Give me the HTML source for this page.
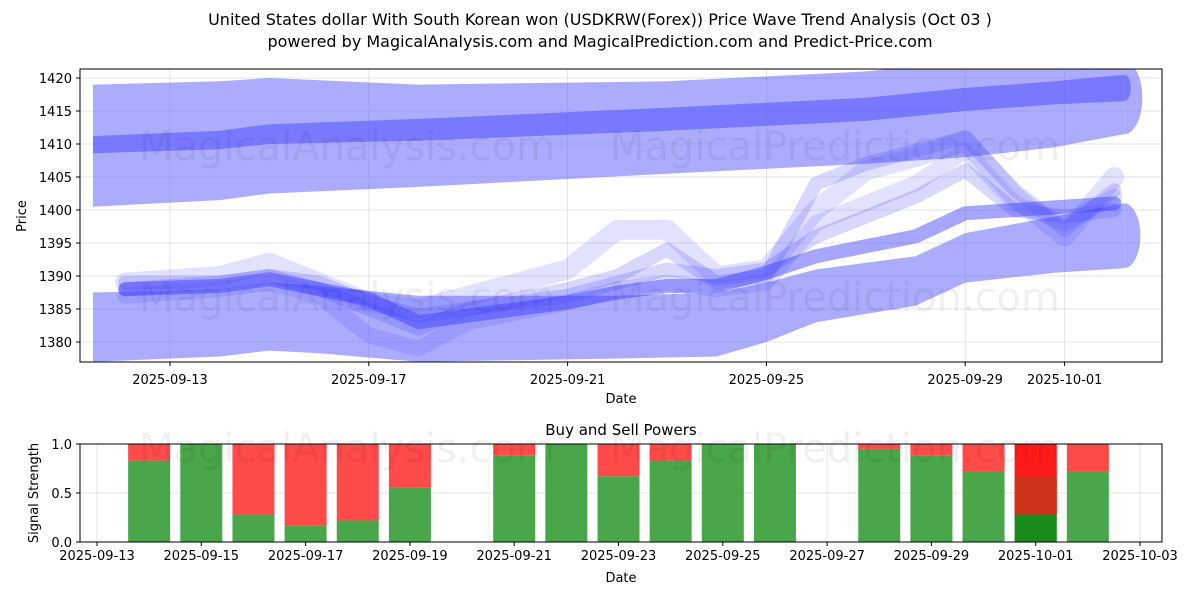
<!DOCTYPE html>
<html><head><meta charset="utf-8"><style>
body{margin:0;background:#fff;font-family:"Liberation Sans","DejaVu Sans",sans-serif;}
svg text{font-family:"DejaVu Sans","Liberation Sans",sans-serif;}
</style></head><body>
<svg id="c" width="1200" height="600" xmlns="http://www.w3.org/2000/svg">
<rect width="1200" height="600" fill="#fff"/>
<text x="600" y="25" font-size="16" text-anchor="middle">United States dollar With South Korean won (USDKRW(Forex)) Price Wave Trend Analysis (Oct 03 )</text>
<text x="600" y="47" font-size="16" text-anchor="middle">powered by MagicalAnalysis.com and MagicalPrediction.com and Predict-Price.com</text>
<g id="main"></g>
<g id="sub"></g>
</svg>
<script>
// ---- main chart data (days since 2025-09-13) ----
const bandDays = [-1.55, 1, 2, 5, 10, 14, 16, 17.8, 19.2];
const upperTop = [1419, 1419.5, 1420, 1419, 1419.5, 1421, 1422.5, 1423, 1422.5];
const upperBot = [1400.5, 1401.5, 1402.5, 1403.5, 1405.5, 1407, 1408, 1409.5, 1411.5];
const midTop = [1411.2, 1412, 1413, 1413.8, 1415.5, 1417, 1418.5, 1419.5, 1420.5];
const midBot = [1408.6, 1409.2, 1410, 1410.5, 1412, 1413.5, 1415, 1416, 1416.5];
const lowDays = [-1.55, 1, 2, 3, 5, 9, 11, 12, 13, 15, 16, 17.8, 19.2];
const lowTop = [1387.5, 1388, 1389, 1388.5, 1387, 1387, 1387.5, 1389, 1391, 1393, 1396.5, 1399, 1401];
const lowBot = [1377, 1377.8, 1378.7, 1378.3, 1377, 1377.5, 1377.8, 1380, 1383, 1385.5, 1389, 1390.5, 1391.2];
const waveDays = [-0.9, 1, 2, 3, 4, 5, 6, 8, 9, 10, 11, 12, 13, 14, 15, 16, 17, 18, 19];
const waveA = [1388, 1388.5, 1389.5, 1388, 1386.5, 1383, 1384, 1386, 1387.5, 1388.5, 1388.5, 1390.5, 1393, 1394.5, 1396, 1399.5, 1400, 1400.5, 1401];
const waveB = [1389, 1390, 1392, 1389, 1386, 1385, 1387, 1391, 1397, 1397, 1390, 1391, 1400, 1406, 1408, 1410.5, 1402, 1396, 1405];
const waveC = [1388, 1389, 1390, 1388, 1385, 1382, 1385, 1388, 1390, 1394, 1389, 1390, 1404, 1407, 1409, 1411, 1403, 1397, 1403];
const waveD = [1387, 1388, 1389, 1387, 1381, 1379, 1383, 1386, 1388, 1389, 1388, 1389, 1398, 1401, 1404, 1409, 1401, 1398, 1402];
const waveE = [1389, 1389, 1390, 1389, 1386, 1384, 1385, 1387, 1389, 1391, 1390, 1391, 1396, 1399, 1402, 1406, 1400, 1399, 1400];
const yTicks = [1380, 1385, 1390, 1395, 1400, 1405, 1410, 1415, 1420];
const xTickDays = [0, 4, 8, 12, 16, 18];
const xTickLabels = ["2025-09-13", "2025-09-17", "2025-09-21", "2025-09-25", "2025-09-29", "2025-10-01"];
// ---- sub chart data (days since 2025-09-13) ----
const barDays = [1, 2, 3, 4, 5, 6, 8, 9, 10, 11, 12, 13, 15, 16, 17, 18, 19];
const buyVals = [0.83, 1.0, 0.28, 0.17, 0.22, 0.56, 0.88, 1.0, 0.67, 0.83, 1.0, 1.0, 0.95, 0.88, 0.72, 0.28, 0.72];
const subXDays = [0, 2, 4, 6, 8, 10, 12, 14, 16, 18, 20];
const subXLabels = ["2025-09-13", "2025-09-15", "2025-09-17", "2025-09-19", "2025-09-21", "2025-09-23", "2025-09-25", "2025-09-27", "2025-09-29", "2025-10-01", "2025-10-03"];
const subYTicks = [0, 0.5, 1.0];
const subYLabels = ["0.0", "0.5", "1.0"];

const NS = "http://www.w3.org/2000/svg";
function mk(tag, attrs, parent, txt) {
  const e = document.createElementNS(NS, tag);
  for (const k in attrs) e.setAttribute(k, attrs[k]);
  if (txt !== undefined) e.textContent = txt;
  parent.appendChild(e);
  return e;
}
const L = 80, R = 1162, T = 69, B = 362;
const xS = d => 170 + 49.7 * d;
const yS = v => 342 - (v - 1380) * 6.6;
const main = document.getElementById('main');
mk('defs', {}, main).innerHTML = '<clipPath id="cp"><rect x="80" y="69" width="1082" height="293"/></clipPath>';
yTicks.forEach(v => {
  const g = mk('line', {x1: L, x2: R, y1: yS(v), y2: yS(v), stroke: '#ddd', 'stroke-width': 0.8}, main);
  
  
  const t = mk('text', {x: L - 8, y: yS(v) + 5, 'font-size': 13, 'text-anchor': 'end'}, main, v);
  
  
  mk('line', {x1: L - 4, x2: L, y1: yS(v), y2: yS(v), stroke: '#000'}, main);
});
xTickDays.forEach((d, i) => {
  const g = mk('line', {x1: xS(d), x2: xS(d), y1: T, y2: B, stroke: '#ddd', 'stroke-width': 0.8}, main);
  
  
  mk('line', {x1: xS(d), x2: xS(d), y1: B, y2: B + 4, stroke: '#000'}, main);
  const t = mk('text', {x: xS(d), y: B + 22, 'font-size': 13, 'text-anchor': 'middle'}, main, xTickLabels[i]);
  
  
});
const plot = mk('g', {'clip-path': 'url(#cp)'}, main);
function band(days, top, bot, fill, op, name) {
  let pts = days.map((d, i) => xS(d) + ',' + yS(top[i]));
  for (let i = days.length - 1; i >= 0; i--) pts.push(xS(days[i]) + ',' + yS(bot[i]));
  const p = mk('polygon', {points: pts.join(' '), fill: fill, 'fill-opacity': op}, plot);
  
  
  const n = days.length - 1, cy = (yS(top[n]) + yS(bot[n])) / 2, r = (yS(bot[n]) - yS(top[n])) / 2;
  mk('path', {d: `M${xS(days[n])},${yS(top[n])} A${r*0.5},${r} 0 0 1 ${xS(days[n])},${yS(bot[n])} Z`, fill: fill, 'fill-opacity': op}, plot);
}
band(bandDays, upperTop, upperBot, '#5a5aff', 0.5, 'upper-trend-band');
band(bandDays, midTop, midBot, '#4646ff', 0.5, 'upper-core-band');
band(lowDays, lowTop, lowBot, '#5a5aff', 0.5, 'lower-trend-band');
function wave(vals, w, op, name) {
  const p = mk('polyline', {points: waveDays.map((d, i) => xS(d) + ',' + yS(vals[i])).join(' '), fill: 'none', stroke: '#3a3aff', 'stroke-width': w, 'stroke-opacity': op, 'stroke-linejoin': 'round', 'stroke-linecap': 'round'}, plot);
  
  
}
wave(waveB, 20, 0.15, 'wave-b');
wave(waveC, 14, 0.2, 'wave-c');
wave(waveD, 16, 0.15, 'wave-d');
wave(waveE, 14, 0.2, 'wave-e');
wave(waveA, 14, 0.45, 'wave-main');
[['MagicalAnalysis.com', 347, 160], ['MagicalPrediction.com', 835, 160], ['MagicalAnalysis.com', 347, 311], ['MagicalPrediction.com', 835, 311]].forEach(w => {
  const t = mk('text', {x: w[1], y: w[2], 'font-size': 40, 'text-anchor': 'middle', fill: '#000', 'fill-opacity': 0.06}, main, w[0]);
  
  
});
mk('rect', {x: L, y: T, width: R - L, height: B - T, fill: 'none', stroke: '#000', 'stroke-width': 1}, main);
const yt = mk('text', {x: 26, y: 216, 'font-size': 13, 'text-anchor': 'middle', transform: 'rotate(-90 26 216)'}, main, 'Price');


const xt = mk('text', {x: 621, y: 403, 'font-size': 13, 'text-anchor': 'middle'}, main, 'Date');



// ---- sub chart ----
const sub = document.getElementById('sub');
const ST = 444, SB = 542;
const sx = d => 97 + 52.15 * d;
const sy = v => SB - v * (SB - ST);
const st = mk('text', {x: 621, y: 435, 'font-size': 15, 'text-anchor': 'middle'}, sub, 'Buy and Sell Powers');


subYTicks.forEach((v, i) => {
  mk('line', {x1: L, x2: R, y1: sy(v), y2: sy(v), stroke: '#ddd', 'stroke-width': 0.8}, sub);
  mk('line', {x1: L - 4, x2: L, y1: sy(v), y2: sy(v), stroke: '#000'}, sub);
  const t = mk('text', {x: L - 8, y: sy(v) + 5, 'font-size': 13, 'text-anchor': 'end'}, sub, subYLabels[i]);
  
  
});
subXDays.forEach((d, i) => {
  mk('line', {x1: sx(d), x2: sx(d), y1: ST, y2: SB, stroke: '#ddd', 'stroke-width': 0.8}, sub);
  mk('line', {x1: sx(d), x2: sx(d), y1: SB, y2: SB + 4, stroke: '#000'}, sub);
  const t = mk('text', {x: sx(d), y: SB + 18, 'font-size': 13, 'text-anchor': 'middle'}, sub, subXLabels[i]);
  
  
});
barDays.forEach((d, i) => {
  const x = sx(d) - 21, v = buyVals[i];
  const s = mk('rect', {x: x, y: sy(1), width: 42, height: sy(v) - sy(1), fill: '#ff4a4a'}, sub);
  
  
  const b = mk('rect', {x: x, y: sy(v), width: 42, height: SB - sy(v), fill: '#4aa64a'}, sub);
  
  
  if (i === barDays.length - 2) {
    mk('rect', {x: x, y: sy(1), width: 42, height: sy(v) - sy(1), fill: '#ff1a1a'}, sub);
    mk('rect', {x: x, y: sy(0.67), width: 42, height: sy(v) - sy(0.67), fill: '#cc3318'}, sub);
    mk('rect', {x: x, y: sy(v), width: 42, height: SB - sy(v), fill: '#1a8a1a'}, sub);
  }
});
[['MagicalAnalysis.com', 347, 462], ['MagicalPrediction.com', 835, 462]].forEach(w => {
  const t = mk('text', {x: w[1], y: w[2], 'font-size': 40, 'text-anchor': 'middle', fill: '#000', 'fill-opacity': 0.06}, sub, w[0]);
  
  
});
mk('rect', {x: L, y: ST, width: R - L, height: SB - ST, fill: 'none', stroke: '#000', 'stroke-width': 1}, sub);
const syt = mk('text', {x: 38, y: 493, 'font-size': 13, 'text-anchor': 'middle', transform: 'rotate(-90 38 493)'}, sub, 'Signal Strength');


const sxt = mk('text', {x: 621, y: 582, 'font-size': 13, 'text-anchor': 'middle'}, sub, 'Date');


</script>
</body></html>
